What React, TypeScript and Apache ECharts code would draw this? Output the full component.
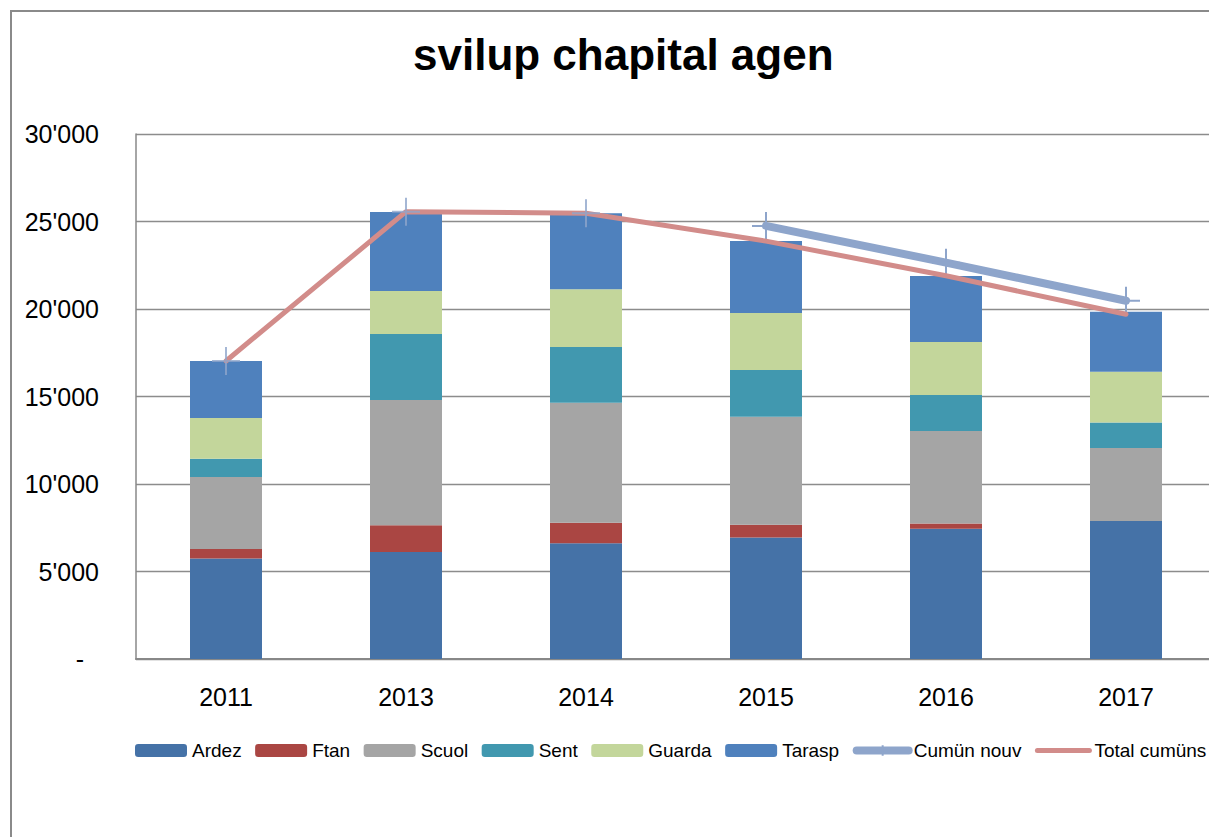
import React, { useEffect, useRef } from "react";
import * as echarts from "echarts";

const years = ["2011", "2013", "2014", "2015", "2016", "2017"];
const ardez = [5750, 6110, 6610, 6950, 7450, 7890];
const ftan = [530, 1530, 1180, 720, 300, -150];
const scuol = [4120, 7160, 6860, 6170, 5280, 4170];
const sent = [1050, 3770, 3180, 2670, 2060, 1450];
const guarda = [2320, 2460, 3300, 3260, 3030, 2910];
const tarasp = [3260, 4510, 4340, 4110, 3770, 3430];
const cumunNouv = [null, null, null, 24750, 22650, 20470];
const cumunNouvMarks = [17030, 25560, 25470, null, null, null];
const totalCumuns = [17030, 25560, 25470, 23880, 21900, 19700];

const SANS = "'Liberation Sans', Arial, sans-serif";

const barSeries = [
  { name: "Ardez", data: ardez, color: "#4572A7" },
  { name: "Ftan", data: ftan, color: "#AA4643" },
  { name: "Scuol", data: scuol, color: "#A5A5A5" },
  { name: "Sent", data: sent, color: "#4198AF" },
  { name: "Guarda", data: guarda, color: "#C3D69B" },
  { name: "Tarasp", data: tarasp, color: "#4F81BD" },
];

const PLUS = "path://M14,0L14,28M0,14L28,14";

function fmt(v: number) {
  if (v === 0) return "{d|-}";
  return String(v).replace(/\B(?=(\d{3})+(?!\d))/g, "'");
}

export default function App() {
  const ref = useRef<HTMLDivElement>(null);
  useEffect(() => {
    if (!ref.current) return;
    const chart = echarts.init(ref.current, null, { renderer: "svg" });
    const option: any = {
      animation: false,
      backgroundColor: "#ffffff",
      title: {
        text: "svilup chapital agen",
        left: 413,
        top: 32,
        padding: 0,
        textStyle: { fontSize: 44, fontWeight: "bold", fontFamily: SANS, color: "#000" },
      },
      graphic: [
        {
          type: "rect",
          shape: { x: 11, y: 11, width: 1400, height: 1000 },
          style: { fill: "none", stroke: "#8a8a8a", lineWidth: 2 },
          silent: true,
        },
      ],
      legend: {
        left: 135,
        top: 741,
        width: 1078,
        itemWidth: 52,
        itemHeight: 13,
        itemGap: 13.5,
        padding: 0,
        textStyle: { fontSize: 19, fontFamily: SANS, color: "#000" },
        data: [
          "Ardez",
          "Ftan",
          "Scuol",
          "Sent",
          "Guarda",
          "Tarasp",
          { name: "Cumün nouv", lineStyle: { width: 8, cap: "round", color: "#8EA5CB" } },
          {
            name: "Total cumüns",
            itemStyle: { opacity: 0 },
            lineStyle: { width: 5, cap: "round", color: "#D28C8A" },
          },
        ],
      },
      grid: { left: 136, top: 134, right: 0, bottom: 178, containLabel: false },
      xAxis: {
        type: "category",
        data: years,
        axisLine: { show: true, lineStyle: { color: "#888", width: 2 } },
        axisTick: { show: false },
        axisLabel: { fontSize: 25, fontFamily: SANS, color: "#000", margin: 25 },
      },
      yAxis: {
        type: "value",
        min: 0,
        max: 30000,
        interval: 5000,
        axisLine: { show: true, lineStyle: { color: "#888", width: 1.5 } },
        axisTick: { show: false },
        splitLine: { show: true, lineStyle: { color: "#8c8c8c", width: 1.3 } },
        axisLabel: {
          fontSize: 25,
          fontFamily: SANS,
          color: "#000",
          margin: 37,
          formatter: fmt,
          rich: { d: { fontSize: 25, fontFamily: SANS, color: "#000", padding: [0, 15, 0, 0] } },
        },
      },
      series: [
        ...barSeries.map((s) => ({
          name: s.name,
          type: "bar",
          stack: "total",
          barWidth: 72,
          data: s.data,
          itemStyle: { color: s.color },
        })),
        {
          name: "Cumün nouv",
          type: "line",
          data: cumunNouv,
          symbol: PLUS,
          symbolSize: 28,
          lineStyle: { color: "#8EA5CB", width: 8, cap: "round", join: "round" },
          itemStyle: { color: "#8EA5CB", borderColor: "#8EA5CB", borderWidth: 2 },
          z: 3,
        },
        {
          name: "Total cumüns",
          type: "line",
          data: totalCumuns,
          symbol: "none",
          lineStyle: { color: "#D28C8A", width: 5, cap: "round", join: "round" },
          itemStyle: { color: "#D28C8A" },
          z: 4,
        },
        {
          name: "Cumün nouv",
          type: "scatter",
          data: cumunNouvMarks,
          symbol: PLUS,
          symbolSize: 28,
          itemStyle: { color: "#8EA5CB", borderColor: "#8EA5CB", borderWidth: 2 },
          z: 5,
        },
      ],
    };
    chart.setOption(option);
    return () => chart.dispose();
  }, []);
  return (
    <div
      style={{
        position: "fixed",
        left: 0,
        top: 0,
        width: 1209,
        height: 837,
        overflow: "hidden",
        background: "#fff",
      }}
    >
      <div ref={ref} style={{ width: 1216, height: 837 }} />
    </div>
  );
}
